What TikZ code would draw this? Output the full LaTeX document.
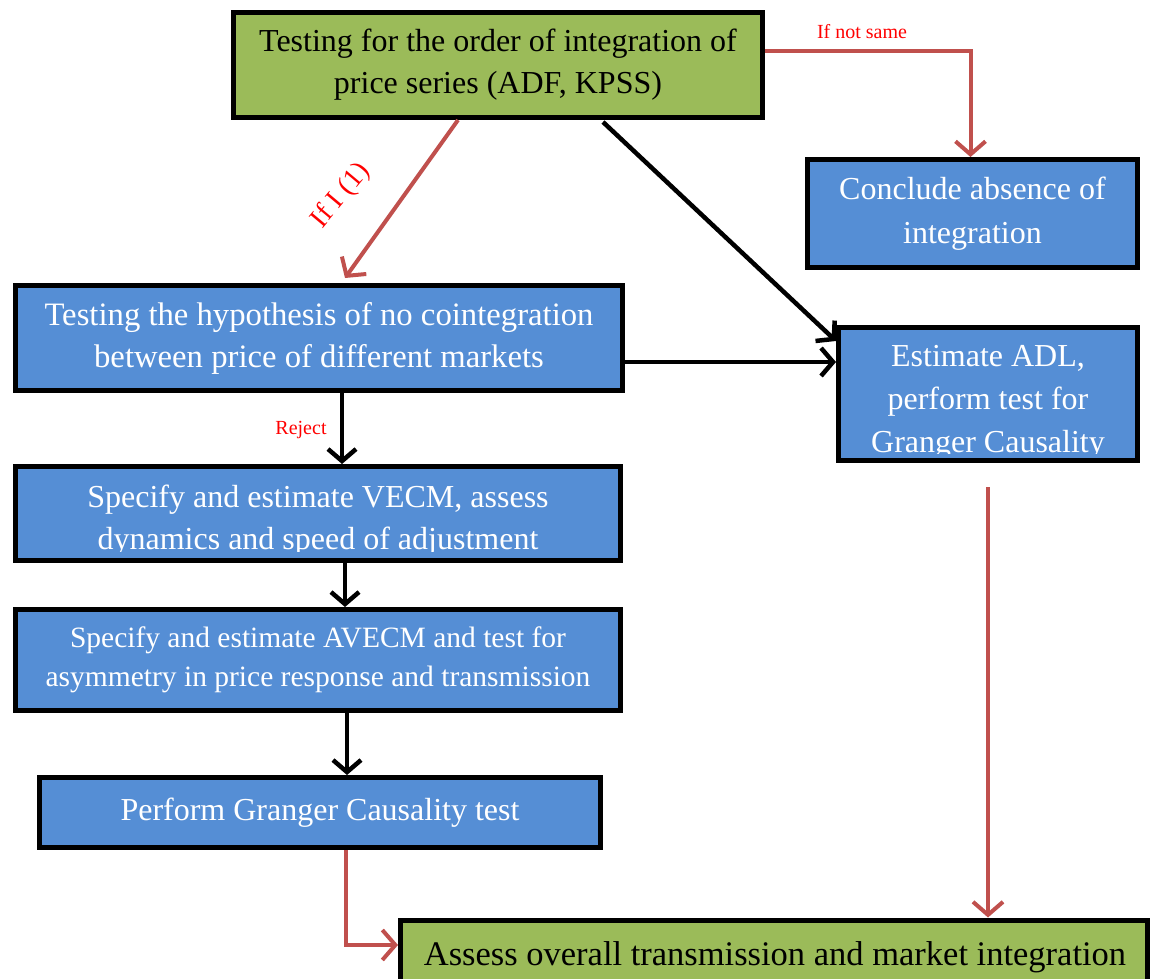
\documentclass[tikz,border=0pt]{standalone}
\usepackage{fontspec}
\setmainfont{Liberation Serif}
\usetikzlibrary{arrows.meta,shadows}
\definecolor{boxgreen}{HTML}{9BBB59}
\definecolor{boxblue}{HTML}{558ED5}
\definecolor{arrred}{HTML}{C0504D}
\definecolor{txtred}{HTML}{FF0000}
\begin{document}
\begin{tikzpicture}[x=1pt,y=-1pt,
  box/.style={draw=black, line width=5pt, rectangle, inner sep=0pt, align=center,
    font=\fontsize{32}{42}\selectfont,
    drop shadow={opacity=0.25, shadow xshift=2pt, shadow yshift=-2pt}},
  gbox/.style={box, fill=boxgreen, text=black},
  bbox/.style={box, fill=boxblue, text=white},
  boxtext/.style={inner sep=0pt, align=center, font=\fontsize{32}{43}\selectfont,
    anchor=south, text depth=0pt},
  blk/.style={draw=black, line width=4.5pt,
    -{Straight Barb[length=12pt,width=28pt,line width=4.5pt]}},
  redarrow/.style={draw=arrred, line width=4pt,
    -{Straight Barb[length=13pt,width=30pt,line width=4pt]}},
  redlabel/.style={text=txtred, inner sep=0pt}
]
\useasboundingbox[fill=white] (0,0) rectangle (1152,979);

% boxes
\node[gbox, minimum width=529pt, minimum height=105pt] (b1) at (498,65)
  {Testing for the order of integration of\\price series (ADF, KPSS)};
\node[bbox, minimum width=330pt, minimum height=108pt, font=\fontsize{32}{44}\selectfont] (b2) at (972.5,213.5)
  {Conclude absence of\\integration};
\node[bbox, minimum width=607pt, minimum height=105pt, font=\fontsize{32.7}{42}\selectfont] (b3) at (319,338)
  {Testing the hypothesis of no cointegration\\between price of different markets};
\node[bbox, minimum width=299pt, minimum height=133pt] (b4) at (988,394) {};
\begin{scope}
  \clip ([xshift=3pt,yshift=-3pt]b4.north west) rectangle ([xshift=-3pt,yshift=9.5pt]b4.south east);
  \node[boxtext, text=white] (b4t) at (988,453)
    {Estimate ADL,\\perform test for\\Granger Causality};
\end{scope}
\node[bbox, minimum width=605pt, minimum height=94pt] (b5) at (318,513.5) {};
\begin{scope}
  \clip ([xshift=3pt,yshift=-3pt]b5.north west) rectangle ([xshift=-3pt,yshift=11.5pt]b5.south east);
  \node[boxtext, text=white, font=\fontsize{32}{42}\selectfont] (b5t) at (318,550)
    {Specify and estimate VECM, assess\\dynamics and speed of adjustment};
\end{scope}
\node[bbox, minimum width=605pt, minimum height=101pt, font=\fontsize{29.5}{39}\selectfont] (b6) at (318,660)
  {Specify and estimate AVECM and test for\\asymmetry in price response and transmission};
\node[bbox, minimum width=561pt, minimum height=70pt] (b7) at (320,812.5)
  {Perform Granger Causality test};
\node[gbox, minimum width=747pt, minimum height=80pt] (b8) at (774,960) {};
\node[boxtext, text=black, font=\fontsize{34.5}{40}\selectfont] (b8t) at (775,966)
  {Assess overall transmission and market integration};

% connectors
\draw[redarrow] ([yshift=14pt]b1.east) -| ([xshift=-2pt]b2.north);
\node[redlabel, font=\fontsize{20}{24}\selectfont] (lns) at (862,32) {If not same};

\draw[redarrow] ([xshift=-40pt]b1.south) -- ([xshift=26pt,yshift=5pt]b3.north);
\node[redlabel, rotate=50, font=\fontsize{28}{32}\selectfont] (li1) at (341,196) {If I (1)};

\draw[blk] ([xshift=105pt,yshift=-2pt]b1.south) -- ([yshift=-16pt]b4.north west);
\draw[blk] ([yshift=-24pt]b3.east) -- ([yshift=-24pt]b3.east -| b4.west);
\draw[blk] ([xshift=23pt]b3.south) -- ([xshift=23pt]b3.south |- b5.north);
\node[redlabel, font=\fontsize{20}{24}\selectfont] (lrej) at (301,430) {Reject};
\draw[blk] ([xshift=27pt]b5.south) -- ([xshift=27pt]b5.south |- b6.north);
\draw[blk] ([xshift=29pt]b6.south) -- ([xshift=29pt]b6.south |- b7.north);

\draw[redarrow] ([xshift=26pt]b7.south) |- ([yshift=15pt]b8.west);
\coordinate (s4) at (988,487);
\draw[redarrow] (s4) -- (s4 |- b8.north);
\end{tikzpicture}
\end{document}
